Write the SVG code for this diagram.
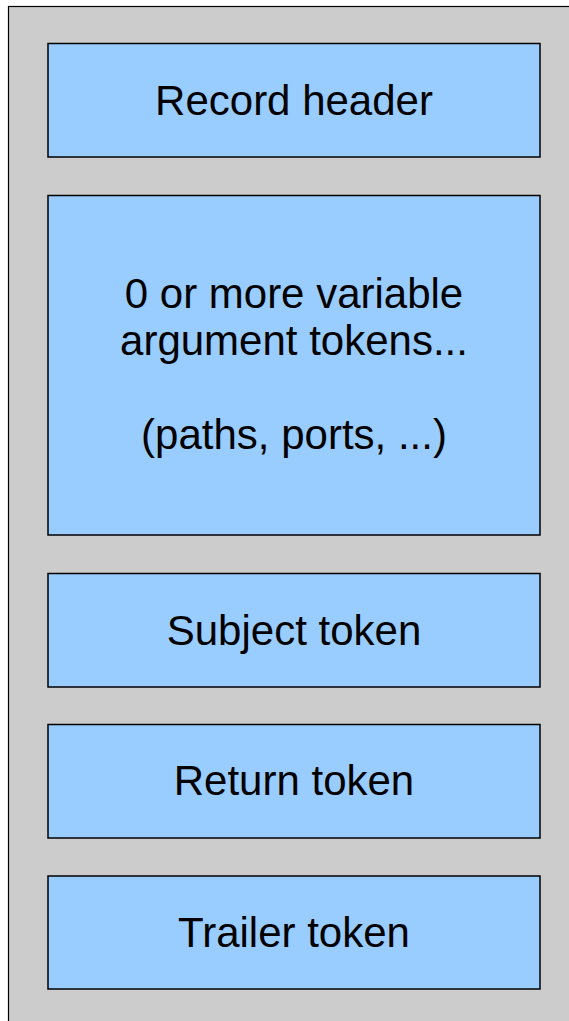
<svg xmlns="http://www.w3.org/2000/svg" width="569" height="1021" viewBox="0 0 569 1021">
<style>
.box{fill:#99ccff;stroke:#000;stroke-width:1.5}
.t{font-family:"Liberation Sans",Arial,sans-serif;font-size:42px;fill:#000;text-anchor:middle}
</style>
<rect x="8.5" y="6.5" width="580" height="1040" fill="#cccccc" stroke="#000" stroke-width="1.2"/>
<g id="record-header"><rect class="box" x="48" y="43.5" width="492" height="113.5"/><text class="t" x="294" y="115">Record header</text></g>
<g id="arguments"><rect class="box" x="48" y="195.5" width="492" height="339.5"/><text class="t" x="294" y="308">0 or more variable</text><text class="t" x="294" y="355">argument tokens...</text><text class="t" x="294" y="449">(paths, ports, ...)</text></g>
<g id="subject"><rect class="box" x="48" y="573.5" width="492" height="113.5"/><text class="t" x="294" y="645">Subject token</text></g>
<g id="return"><rect class="box" x="48" y="724.5" width="492" height="113.5"/><text class="t" x="294" y="795">Return token</text></g>
<g id="trailer"><rect class="box" x="48" y="876" width="492" height="113"/><text class="t" x="294" y="947">Trailer token</text></g>
<g id="connectors"/>
</svg>
